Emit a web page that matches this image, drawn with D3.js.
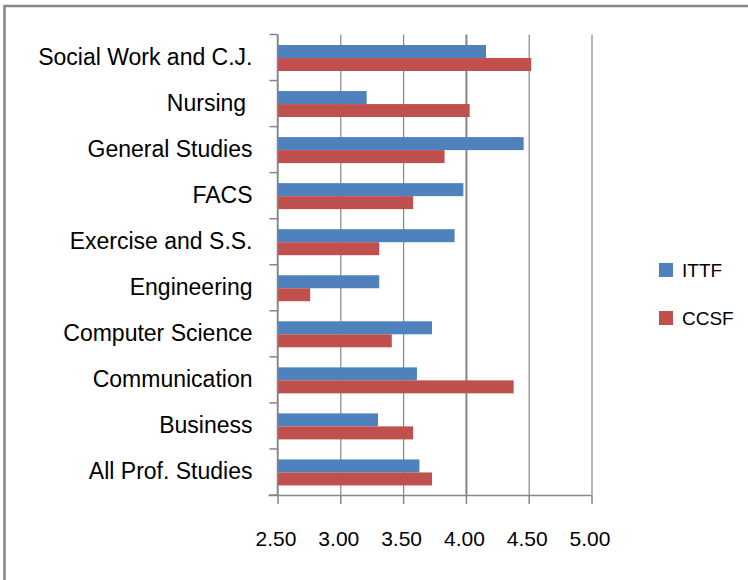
<!DOCTYPE html>
<html>
<head>
<meta charset="utf-8">
<script src="https://cdn.jsdelivr.net/npm/d3@7"></script>
<style>
  html, body { margin: 0; padding: 0; background: #fff; }
  svg { display: block; }
  text { font-family: "Liberation Sans", Arial, sans-serif; fill: #000; }
</style>
</head>
<body>
<svg id="chart" width="748" height="580"></svg>
<script>
// ---- data ----
const categories = ["Social Work and C.J.", "Nursing ", "General Studies", "FACS", "Exercise and S.S.",
  "Engineering", "Computer Science", "Communication", "Business", "All Prof. Studies"];
const seriesNames = ["ITTF", "CCSF"];
const ittf = [4.16, 3.21, 4.46, 3.98, 3.91, 3.31, 3.73, 3.61, 3.30, 3.63];
const ccsf = [4.52, 4.03, 3.83, 3.58, 3.31, 2.76, 3.41, 4.38, 3.58, 3.73];
const xTicks = [2.5, 3.0, 3.5, 4.0, 4.5, 5.0];
const colors = ["#4F81BD", "#C0504D"];

(function () {
const rows = categories.map((c, i) => ({ cat: c, vals: [ittf[i], ccsf[i]] }));

const svg = d3.select("#chart");

// outer border
svg.append("rect").attr("x", 4.5).attr("y", 6).attr("width", 900).attr("height", 800)
  .attr("fill", "none").attr("stroke", "#868686").attr("stroke-width", 2.5);

const pLeft = 277.5, pRight = 591.5, pTop = 34.5, pBottom = 495;

const x = d3.scaleLinear().domain([2.5, 5.0]).range([pLeft, pRight]);
const y = d3.scaleBand().domain(categories).range([pTop, pBottom]).padding(0);
const inner = d3.scaleBand().domain(seriesNames).range([10.5, 36.5]).padding(0);

// gridlines
const grid = svg.append("g").attr("transform", `translate(0,${pBottom})`)
  .call(d3.axisBottom(x).tickValues(xTicks).tickSize(-(pBottom - pTop)).tickFormat(""));
grid.select(".domain").remove();
grid.selectAll("line").attr("stroke", "#868686")
  .attr("stroke-width", d => d === 4.0 ? 2 : 1.2);

// bars
const g = svg.append("g");
rows.forEach(r => {
  seriesNames.forEach((s, j) => {
    g.append("rect")
      .attr("x", x(2.5))
      .attr("y", y(r.cat) + inner(s))
      .attr("width", x(r.vals[j]) - x(2.5))
      .attr("height", inner.bandwidth())
      .attr("fill", colors[j]);
  });
});

// x axis
const xa = svg.append("g").attr("transform", `translate(0,${pBottom})`)
  .call(d3.axisBottom(x).tickValues(xTicks).tickSize(9).tickPadding(27).tickFormat(d3.format(".2f")));
xa.select(".domain").attr("stroke", "#868686").attr("stroke-width", 1.5)
  .attr("d", `M${pLeft - 9},0.5H${pRight}`);
xa.selectAll(".tick line").attr("stroke", "#868686").attr("stroke-width", 1.5);
xa.selectAll(".tick text").attr("font-size", 21).attr("font-family", "Liberation Sans, Arial, sans-serif")
  .attr("dx", -2).attr("fill", "#000");

// y axis: line + ticks at band boundaries, labels at centers
const ya = svg.append("g").attr("transform", `translate(${pLeft},0)`)
  .call(d3.axisLeft(y).tickSize(0).tickPadding(25));
ya.select(".domain").attr("stroke", "#868686").attr("stroke-width", 1.5)
  .attr("d", `M0,${pTop}V${pBottom}`);
ya.selectAll(".tick text").attr("font-size", 23).attr("font-family", "Liberation Sans, Arial, sans-serif")
  .attr("fill", "#000").style("white-space", "pre");
const boundaries = categories.map(c => y(c)).concat([pBottom]);
svg.append("g").selectAll("line").data(boundaries).join("line")
  .attr("x1", pLeft - 8).attr("x2", pLeft).attr("y1", d => d).attr("y2", d => d)
  .attr("stroke", "#868686").attr("stroke-width", 1.5);

// legend
const legend = svg.append("g");
const legendY = [270, 318];
seriesNames.forEach((s, j) => {
  legend.append("rect").attr("x", 659).attr("y", legendY[j] - 7).attr("width", 14).attr("height", 14)
    .attr("fill", colors[j]);
  legend.append("text").attr("x", 682).attr("y", legendY[j]).attr("dy", "0.35em")
    .attr("font-size", 19).text(s);
});
})();
</script>
</body>
</html>
